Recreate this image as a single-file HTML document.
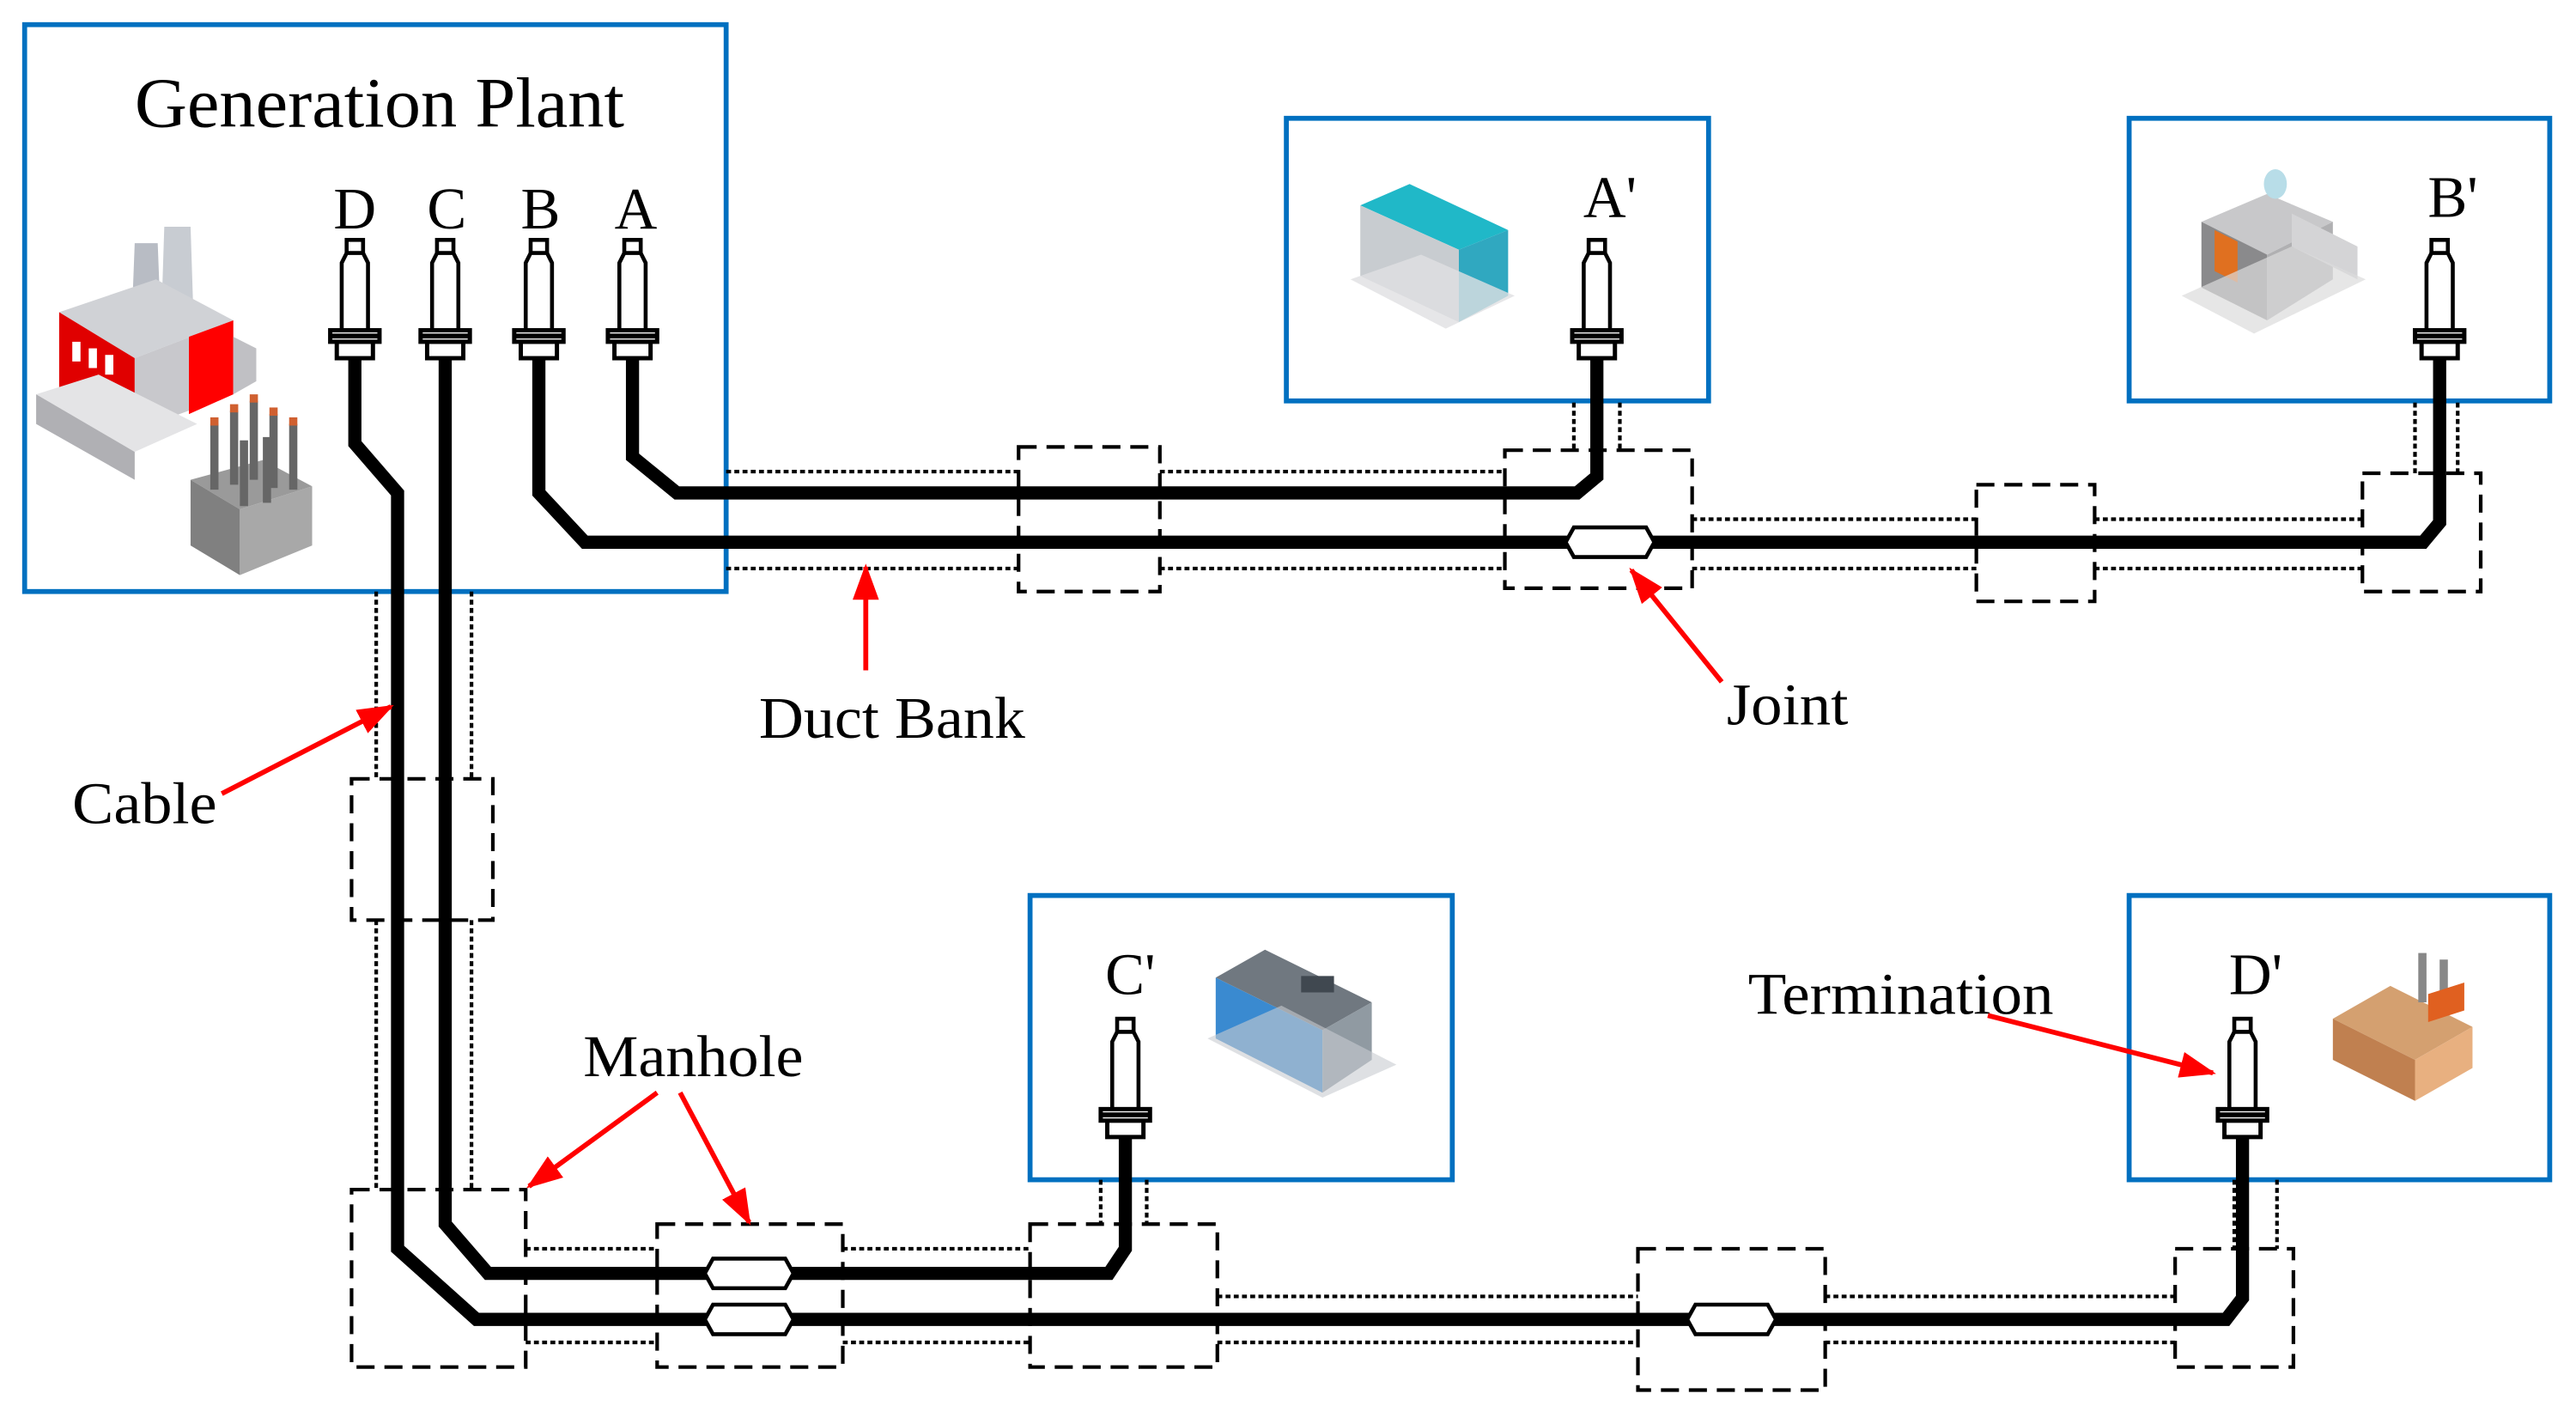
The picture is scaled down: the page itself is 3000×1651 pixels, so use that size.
<!DOCTYPE html>
<html><head><meta charset="utf-8"><style>
html,body{margin:0;padding:0;background:#fff;}
svg{display:block;}
text{font-family:"Liberation Serif",serif;fill:#000;}
</style></head><body>
<svg width="3000" height="1651" viewBox="0 0 1568 863" preserveAspectRatio="none" xmlns="http://www.w3.org/2000/svg">
<defs>
<g id="term">
 <rect x="-5" y="0" width="10" height="8" fill="#fff" stroke="#000" stroke-width="2.4"/>
 <path d="M-8,56 V14 L-5,8 H5 L8,14 V56" fill="#fff" stroke="#000" stroke-width="2.4"/>
 <rect x="-11" y="62" width="22" height="10" fill="#fff" stroke="#000" stroke-width="2.6"/>
 <rect x="-15" y="55" width="30" height="7" fill="#fff" stroke="#000" stroke-width="2.6"/>
 <rect x="-15" y="57" width="30" height="3" fill="#000"/>
</g>
<g id="joint"><polygon points="-22,-9 22,-9 27,0 22,9 -22,9 -27,0" fill="#fff" stroke="#000" stroke-width="2.4"/></g>
<marker id="ah" markerWidth="22" markerHeight="16" refX="20" refY="8" orient="auto" markerUnits="userSpaceOnUse" viewBox="0 0 22 16"><path d="M0,0 L22,8 L0,16 z" fill="#f00"/></marker>
</defs>
<g fill="none" stroke="#0070C0" stroke-width="3">
<rect x="15" y="15" width="427" height="345"/>
<rect x="783" y="72" width="257" height="172"/>
<rect x="1296" y="72" width="256" height="172"/>
<rect x="627" y="545" width="257" height="173"/>
<rect x="1296" y="545" width="256" height="173"/>
</g>
<g fill="none" stroke="#000" stroke-width="2.2" stroke-dasharray="3,2">
<path d="M442,287H620 M442,346H620 M706,287H916 M706,346H916"/>
<path d="M1030,316H1203 M1030,346H1203 M1275,316H1438 M1275,346H1438"/>
<path d="M958,245V274 M986,245V274 M1470,245V288 M1496,245V288"/>
<path d="M229,360V474 M287,360V474 M229,560V724 M287,560V724"/>
<path d="M320,760H400 M320,817H400 M513,760H627 M513,817H627"/>
<path d="M741,789H997 M741,817H997 M1111,789H1324 M1111,817H1324"/>
<path d="M670,718V745 M698,718V745 M1360,718V760 M1386,718V760"/>
</g>
<g fill="none" stroke="#000" stroke-width="2.2" stroke-dasharray="11,6">
<rect x="620" y="272" width="86" height="88"/>
<rect x="916" y="274" width="114" height="84"/>
<rect x="1203" y="295" width="72" height="71"/>
<rect x="1438" y="288" width="72" height="72"/>
<rect x="214" y="474" width="86" height="86"/>
<rect x="214" y="724" width="106" height="108"/>
<rect x="400" y="745" width="113" height="87"/>
<rect x="627" y="745" width="114" height="87"/>
<rect x="997" y="760" width="114" height="86"/>
<rect x="1324" y="760" width="72" height="72"/>
</g>
<g fill="none" stroke="#000" stroke-width="8" stroke-linejoin="miter">
<path d="M385,212V278L412,300H960L972,290V212"/>
<path d="M328,212V300L356,330H1475L1485,318V212"/>
<path d="M271,212V745L297,775H675L685,760V688"/>
<path d="M216,212V270L242,300V760L290,803H1355L1365,790V688"/>
</g>
<use href="#joint" x="980" y="330"/>
<use href="#joint" x="456" y="775"/>
<use href="#joint" x="456" y="803"/>
<use href="#joint" x="1054" y="803"/>
<use href="#term" x="216" y="146"/>
<use href="#term" x="271" y="146"/>
<use href="#term" x="328" y="146"/>
<use href="#term" x="385" y="146"/>
<use href="#term" x="972" y="146"/>
<use href="#term" x="1485" y="146"/>
<use href="#term" x="685" y="620"/>
<use href="#term" x="1365" y="620"/>
<text x="231" y="77" font-size="43" text-anchor="middle" textLength="298" lengthAdjust="spacingAndGlyphs">Generation Plant</text>
<g font-size="36" text-anchor="middle">
<text x="216" y="139">D</text><text x="272" y="139">C</text><text x="329" y="139">B</text><text x="387" y="139">A</text>
<text x="980" y="132">A'</text><text x="1493" y="132">B'</text>
<text x="688" y="605">C'</text><text x="1373" y="605">D'</text>
<text x="543" y="449" textLength="162" lengthAdjust="spacingAndGlyphs">Duct Bank</text>
<text x="1088" y="441" textLength="74" lengthAdjust="spacingAndGlyphs">Joint</text>
<text x="88" y="501" textLength="88" lengthAdjust="spacingAndGlyphs">Cable</text>
<text x="422" y="655" textLength="134" lengthAdjust="spacingAndGlyphs">Manhole</text>
<text x="1157" y="617" textLength="186" lengthAdjust="spacingAndGlyphs">Termination</text>
</g>
<g stroke="#f00" stroke-width="3" fill="none" marker-end="url(#ah)">
<path d="M527,408V345"/>
<path d="M1048,415L993,347"/>
<path d="M135,483L238,430"/>
<path d="M400,665L322,722"/>
<path d="M414,665L456,744"/>
<path d="M1210,618L1347,653"/>
</g>
<g>
<polygon points="82,148 96,148 98,200 80,200" fill="#b8bcc4"/>
<polygon points="100,138 116,138 118,200 98,200" fill="#c8ccd2"/>
<polygon points="36,190 95,170 142,195 82,218" fill="#d0d2d6"/>
<polygon points="36,190 82,218 82,262 36,236" fill="#e00000"/>
<polygon points="82,218 142,195 142,240 82,262" fill="#c8c8cc"/>
<polygon points="115,205 142,195 142,240 115,252" fill="#f00"/>
<polygon points="22,240 60,228 120,258 82,275" fill="#e4e4e6"/>
<polygon points="22,240 82,275 82,292 22,258" fill="#b0b0b4"/>
<polygon points="142,205 156,212 156,232 142,240" fill="#c0c0c4"/>
<rect x="44" y="208" width="5" height="12" fill="#fff"/><rect x="54" y="212" width="5" height="12" fill="#fff"/><rect x="64" y="216" width="5" height="12" fill="#fff"/>
</g>
<g>
<polygon points="116,292 160,280 190,296 146,310" fill="#9a9a9a"/>
<polygon points="116,292 146,310 146,350 116,332" fill="#808080"/>
<polygon points="146,310 190,296 190,332 146,350" fill="#a8a8a8"/>
<g fill="#666"><rect x="128" y="258" width="5" height="40"/><rect x="140" y="250" width="5" height="45"/><rect x="152" y="244" width="5" height="48"/><rect x="164" y="252" width="5" height="45"/><rect x="176" y="258" width="5" height="40"/><rect x="146" y="268" width="5" height="40"/><rect x="160" y="266" width="5" height="40"/></g>
<g fill="#d06030"><rect x="128" y="254" width="5" height="5"/><rect x="140" y="246" width="5" height="5"/><rect x="152" y="240" width="5" height="5"/><rect x="164" y="248" width="5" height="5"/><rect x="176" y="254" width="5" height="5"/></g>
</g>
<g>
<polygon points="828,125 858,112 918,140 888,152" fill="#20b8c8"/>
<polygon points="828,125 888,152 888,196 828,168" fill="#c8ccd0"/>
<polygon points="888,152 918,140 918,180 888,196" fill="#30a8c0"/>
<polygon points="822,170 880,200 922,180 865,155" fill="#e0e0e2" opacity="0.8"/>
</g>
<g>
<polygon points="1340,135 1380,118 1420,135 1380,155" fill="#c8c8ca"/>
<polygon points="1340,135 1380,155 1380,195 1340,175" fill="#8a8a8c"/>
<polygon points="1348,140 1362,147 1362,172 1348,165" fill="#e07020"/>
<polygon points="1380,155 1420,135 1420,170 1380,195" fill="#b0b0b2"/>
<polygon points="1395,130 1435,150 1435,170 1395,150" fill="#d4d4d6"/>
<ellipse cx="1385" cy="112" rx="7" ry="9" fill="#b8dde8"/>
<polygon points="1328,180 1372,203 1440,170 1395,150" fill="#dcdcdc" opacity="0.7"/>
</g>
<g>
<polygon points="740,595 770,578 835,610 805,627" fill="#707880"/>
<polygon points="740,595 805,627 805,665 740,632" fill="#3a8ad0"/>
<polygon points="805,627 835,610 835,645 805,665" fill="#909aa2"/>
<rect x="792" y="594" width="20" height="10" fill="#404850"/>
<polygon points="735,632 805,668 850,648 780,612" fill="#c8ccd0" opacity="0.6"/>
</g>
<g>
<polygon points="1420,620 1455,600 1505,625 1470,645" fill="#d4a070"/>
<polygon points="1420,620 1470,645 1470,670 1420,645" fill="#c08050"/>
<polygon points="1470,645 1505,625 1505,650 1470,670" fill="#e8b080"/>
<rect x="1472" y="580" width="5" height="30" fill="#888"/><rect x="1485" y="584" width="5" height="30" fill="#888"/>
<polygon points="1478,605 1500,598 1500,615 1478,622" fill="#e06020"/>
</g>
</svg>
</body></html>
